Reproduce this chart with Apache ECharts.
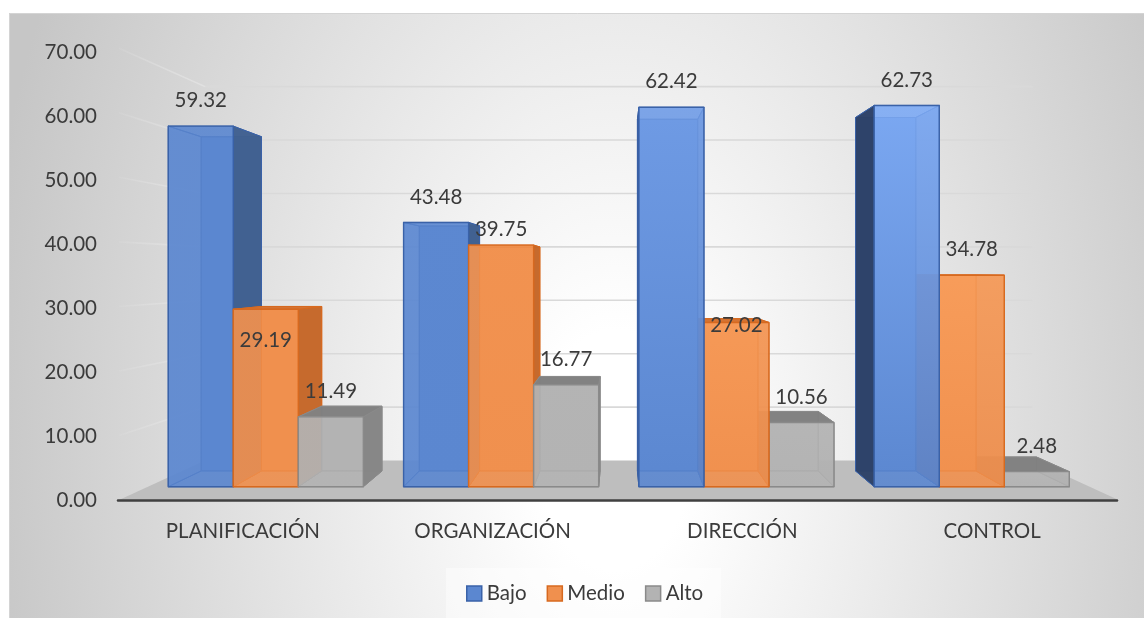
<!DOCTYPE html>
<html>
<head>
<meta charset="utf-8">
<title>Niveles por dimensión</title>
<script src="https://cdn.jsdelivr.net/npm/echarts@6/dist/echarts.min.js"></script>
<style>
  html, body { margin: 0; padding: 0; background: #ffffff; }
  #chart { width: 1144px; height: 618px; }
</style>
</head>
<body>
<div id="chart"></div>
<script>
// ---- data ----
const categories = ['PLANIFICACIÓN', 'ORGANIZACIÓN', 'DIRECCIÓN', 'CONTROL'];
const seriesNames = ['Bajo', 'Medio', 'Alto'];
const bajo  = [59.32, 43.48, 62.42, 62.73];
const medio = [29.19, 39.75, 27.02, 34.78];
const alto  = [11.49, 16.77, 10.56, 2.48];
const yTicks = [0, 10, 20, 30, 40, 50, 60, 70];

// ---- look ----
const FONT = 'Lato';
const FONT_SIZE = 20.5;
const TEXT = '#3b3b3b';
const palette = {
  Bajo:  { face: '#5b87d0', hi: '#82aff9', outer: '#41608f', outerR: '#2d4166', innerR: '#4a70b6', top: '#4468a6', edge: '#3a62a8' },
  Medio: { face: '#f0904e', hi: '#f99f5d', outer: '#c4682c', outerR: '#c4682c', innerR: '#d9773a', top: '#d27232', edge: '#d7691f' },
  Alto:  { face: '#b3b3b3', hi: '#b6b6b6', outer: '#858585', outerR: '#858585', innerR: '#a3a3a3', top: '#808080', edge: '#8a8a8a' }
};
// vertical nudges (px, downward) for a few hand-placed value labels
const labelShift = { 'Medio|0': 57, 'Medio|1': 10, 'Medio|2': 28 };

// ---- 3D scene parameters ----
const EYE = 35.5;          // horizon height, in value units
const BAR_DEPTH = 0.927;   // back face of the columns relative to their front face
const WALL_DEPTH = 0.879;  // back wall
const FLOOR_FRONT = 1.062; // front edge of the floor
const GROUP_FILL = 0.829;  // share of a category band covered by its three columns

function hex(c) {
  const h = c.replace('#', '');
  return [0, 2, 4].map(i => parseInt(h.substr(i, 2), 16));
}
function mix(a, b, t) {
  const pa = hex(a), pb = hex(b);
  return 'rgb(' + [0, 1, 2].map(i => Math.round(pa[i] + (pb[i] - pa[i]) * t)).join(',') + ')';
}
function withAlpha(c, a) {
  const p = hex(c);
  return 'rgba(' + p.join(',') + ',' + a + ')';
}
function withAlphaRgb(rgb, a) {
  return rgb.replace('rgb(', 'rgba(').replace(')', ',' + a + ')');
}
function vanishingPoint(api) {
  const a = api.coord([0, EYE]);
  const b = api.coord([categories.length - 1, EYE]);
  return [(a[0] + b[0]) / 2, a[1]];
}
function project(vp, x, y, r) {
  return [vp[0] + (x - vp[0]) * r, vp[1] + (y - vp[1]) * r];
}

// floor, back wall and side wall grid lines
function renderScene(params, api) {
  const band = api.size([1, 0])[0];
  const left = api.coord([0, 0])[0] - band / 2;
  const right = api.coord([categories.length - 1, 0])[0] + band / 2;
  const vp = vanishingPoint(api);
  const y0 = api.coord([0, 0])[1];
  const children = [];
  const floor = [
    project(vp, left, y0, FLOOR_FRONT), project(vp, right, y0, FLOOR_FRONT),
    project(vp, right, y0, WALL_DEPTH), project(vp, left, y0, WALL_DEPTH)
  ];
  children.push({ type: 'polygon', shape: { points: floor }, style: { fill: '#bebebe' }, z2: -50 });
  yTicks.forEach(v => {
    if (v === 0) return;
    const y = api.coord([0, v])[1];
    const a = project(vp, left, y, FLOOR_FRONT);
    const b = project(vp, left, y, WALL_DEPTH);
    const c = project(vp, right, y, WALL_DEPTH);
    children.push({
      type: 'line', shape: { x1: b[0], y1: b[1], x2: c[0], y2: c[1] },
      style: { stroke: '#d9d9d9', lineWidth: 1.6 }, z2: -40
    });
    children.push({
      type: 'line', shape: { x1: a[0], y1: a[1], x2: b[0], y2: b[1] },
      style: {
        lineWidth: 1.6,
        stroke: new echarts.graphic.LinearGradient(a[0], a[1], b[0], b[1], [
          { offset: 0, color: 'rgba(232,232,232,0.1)' },
          { offset: 1, color: 'rgba(226,226,226,0.9)' }
        ], true)
      }, z2: -40
    });
  });
  return { type: 'group', children };
}

// one transparent 3D column per data item
function makeBoxRenderer(sIdx) {
  const name = seriesNames[sIdx];
  const col = palette[name];
  return function (params, api) {
    const ci = api.value(0), v = api.value(1);
    const band = api.size([1, 0])[0];
    const barW = band * GROUP_FILL / 3;
    const base = api.coord([ci, 0]);
    const topPt = api.coord([ci, v]);
    const vp = vanishingPoint(api);
    const x0 = base[0] - 1.5 * barW + sIdx * barW, x1 = x0 + barW;
    const yb = base[1], yt = topPt[1];
    const cx = (x0 + x1) / 2;
    const leftOfVp = cx < vp[0];
    const B = (x, y) => project(vp, x, y, BAR_DEPTH);
    const fbl = [x0, yb], fbr = [x1, yb], ftl = [x0, yt], ftr = [x1, yt];
    const bbl = B(x0, yb), bbr = B(x1, yb), btl = B(x0, yt), btr = B(x1, yt);
    const zBase = Math.round((1200 - Math.abs(cx - vp[0])) * 10);
    const edge = col.edge;
    const face = (pts, fill, layer, lw) => ({
      type: 'polygon', shape: { points: pts },
      style: { fill: fill, stroke: edge, lineWidth: lw || 1, lineJoin: 'round' },
      z2: zBase + layer
    });
    const children = [];
    // back and bottom
    children.push(face([bbl, bbr, btr, btl], col.face, 0));
    children.push(face([fbl, fbr, bbr, bbl], withAlpha(col.face, 0.5), 1));
    // inner (back-facing) side
    if (leftOfVp) children.push(face([fbl, bbl, btl, ftl], withAlpha(col.face, 0.6), 2));
    else children.push(face([fbr, bbr, btr, ftr], withAlpha(col.innerR, 0.7), 2));
    // top: seen from above when below the horizon, from below otherwise
    const aboveEye = yt < vp[1];
    if (aboveEye) children.push(face([ftl, ftr, btr, btl], withAlpha(col.face, 0.5), 3));
    // outer visible side
    if (leftOfVp) children.push(face([fbr, bbr, btr, ftr], withAlpha(col.outer, 0.96), 4));
    else children.push(face([fbl, bbl, btl, ftl], withAlpha(col.outerR, 0.96), 4));
    if (!aboveEye) children.push(face([ftl, ftr, btr, btl], withAlpha(col.top, 0.95), 5));
    // front face, lighter towards the top on the right-hand groups
    const t = Math.max(0, Math.min(1, (cx - 430) / 400));
    const frontFill = new echarts.graphic.LinearGradient(0, 0, 0, 1, [
      { offset: 0, color: withAlphaRgb(mix(col.face, col.hi, t), 0.82) },
      { offset: 1, color: withAlpha(col.face, 0.82) }
    ]);
    children.push(face([fbl, fbr, ftr, ftl], frontFill, 6, 1.4));
    // value label
    const shift = labelShift[name + '|' + ci] || 0;
    children.push({
      type: 'text',
      style: {
        text: v.toFixed(2), x: cx, y: yt - 25.5 + shift,
        fill: TEXT, fontSize: FONT_SIZE, fontFamily: FONT,
        align: 'center', verticalAlign: 'middle',
        textAlign: 'center', textVerticalAlign: 'middle'
      },
      z2: 100000
    });
    return { type: 'group', children };
  };
}

const seriesValues = [bajo, medio, alto];

const chart = echarts.init(document.getElementById('chart'), null, { renderer: 'canvas' });

// elliptical background shading of the chart area
const BG_SY = 1.5625;
const option = {
  animation: false,
  backgroundColor: '#ffffff',
  graphic: [
    {
      type: 'rect', x: 9, y: 13, scaleY: BG_SY, z: -10, silent: true,
      shape: { x: 0, y: 0, width: 1135, height: 605 / BG_SY },
      style: {
        fill: new echarts.graphic.RadialGradient(606, (450 - 13) / BG_SY, 640, [
          { offset: 0, color: '#ffffff' },
          { offset: 0.12, color: '#ffffff' },
          { offset: 1, color: '#c6c6c6' }
        ], true)
      }
    },
    {
      type: 'rect', z: -9, silent: true,
      shape: { x: 9.5, y: 13.5, width: 1140, height: 610 },
      style: { fill: 'none', stroke: '#d4d4d4', lineWidth: 1 }
    }
  ],
  legend: {
    left: 446, top: 568,
    padding: [15, 18, 14, 20],
    backgroundColor: 'rgba(255,255,255,0.45)',
    itemWidth: 15, itemHeight: 15, itemGap: 20,
    icon: 'rect',
    selectedMode: false,
    textStyle: { fontSize: FONT_SIZE, fontFamily: FONT, color: TEXT },
    data: seriesNames.map(n => ({
      name: n,
      itemStyle: { color: palette[n].face, borderColor: palette[n].edge, borderWidth: 1.5 }
    }))
  },
  grid: [
    // plane of the axis labels
    { left: 118, right: 27, top: 52, bottom: 118 },
    // front plane of the columns
    { left: 148.15, right: 54.6, top: 61.24, bottom: 131.3 }
  ],
  xAxis: [
    {
      type: 'category', gridIndex: 0, data: categories, z: 5,
      axisLine: { show: true, lineStyle: { color: '#404040', width: 2.5 } },
      axisTick: { show: false },
      axisLabel: { margin: 21, fontSize: FONT_SIZE, fontFamily: FONT, color: TEXT }
    },
    { type: 'category', gridIndex: 1, data: categories, show: false }
  ],
  yAxis: [
    {
      type: 'value', gridIndex: 0, min: yTicks[0], max: yTicks[yTicks.length - 1], interval: 10,
      axisLine: { show: false }, axisTick: { show: false }, splitLine: { show: false },
      axisLabel: { margin: 21, fontSize: FONT_SIZE, fontFamily: FONT, color: TEXT, formatter: v => v.toFixed(2) }
    },
    {
      type: 'value', gridIndex: 1, min: yTicks[0], max: yTicks[yTicks.length - 1], interval: 10,
      show: false, splitLine: { show: false }
    }
  ],
  series: [
    {
      type: 'custom', name: 'escena', xAxisIndex: 1, yAxisIndex: 1, silent: true,
      renderItem: renderScene, data: [[0, 0]], encode: { x: 0, y: 1 }
    }
  ].concat(seriesNames.map((n, s) => ({
    type: 'custom', name: n, xAxisIndex: 1, yAxisIndex: 1, silent: true,
    itemStyle: { color: palette[n].face },
    renderItem: makeBoxRenderer(s),
    encode: { x: 0, y: 1 },
    data: seriesValues[s].map((v, i) => [i, v])
  })))
};
chart.setOption(option);
</script>
</body>
</html>
